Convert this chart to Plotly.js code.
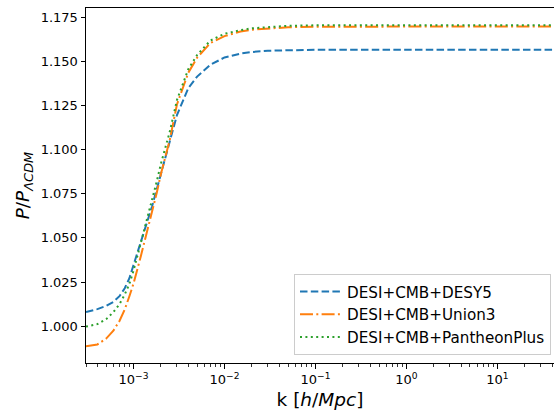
<!DOCTYPE html>
<html>
<head>
<meta charset="utf-8">
<script src="https://cdn.plot.ly/plotly-3.0.1.min.js"></script>
<style>html,body{margin:0;padding:0;background:#fff;}#chart{width:554px;height:414px;}</style>
</head>
<body>
<div id="chart"></div>
<script>
// wavenumber k [h/Mpc]
const k = [3e-4, 4e-4, 5e-4, 6e-4, 7e-4, 8e-4, 9e-4, 1e-3, 1.2e-3, 1.4e-3, 1.6e-3, 1.8e-3, 2e-3, 2.5e-3, 3e-3, 4e-3, 5e-3, 7e-3, 1e-2, 1.5e-2, 2e-2, 3e-2, 5e-2, 0.1, 0.2, 0.5, 1, 2, 5, 10, 20, 50];
// P / P_LCDM
const ratioDESY5 = [1.0080, 1.0097, 1.0115, 1.0138, 1.0170, 1.0215, 1.0272, 1.0350, 1.0478, 1.0585, 1.0679, 1.0773, 1.0863, 1.1042, 1.1195, 1.1348, 1.1413, 1.1480, 1.1521, 1.1543, 1.1552, 1.1559, 1.1563, 1.1565, 1.1565, 1.1565, 1.1565, 1.1565, 1.1565, 1.1565, 1.1565, 1.1565];
const ratioUnion3 = [0.9887, 0.9897, 0.9930, 0.9975, 1.0030, 1.0095, 1.0170, 1.0242, 1.0395, 1.0527, 1.0644, 1.0755, 1.0862, 1.1054, 1.1255, 1.1435, 1.1520, 1.1603, 1.1642, 1.1668, 1.1678, 1.1686, 1.1692, 1.1695, 1.1696, 1.1696, 1.1696, 1.1696, 1.1696, 1.1696, 1.1696, 1.1696];
const ratioPantheon = [0.9998, 1.0012, 1.0040, 1.0080, 1.0125, 1.0180, 1.0240, 1.0315, 1.0470, 1.0600, 1.0710, 1.0820, 1.0920, 1.1100, 1.1280, 1.1455, 1.1535, 1.1617, 1.1655, 1.1676, 1.1686, 1.1694, 1.1700, 1.1703, 1.1704, 1.1704, 1.1704, 1.1704, 1.1704, 1.1704, 1.1704, 1.1704];

const seriesNames = ["DESI+CMB+DESY5", "DESI+CMB+Union3", "DESI+CMB+PantheonPlus"];
const xTickVals = [1e-3, 1e-2, 1e-1, 1, 10];
const xTickText = ["10<sup>\u22123</sup>", "10<sup>\u22122</sup>", "10<sup>\u22121</sup>", "10<sup>0</sup>", "10<sup>1</sup>"];
const yTickVals = [1.000, 1.025, 1.050, 1.075, 1.100, 1.125, 1.150, 1.175];

const minorVals = [];
for (let e = -4; e <= 1; e++) {
  for (let m = 2; m <= 9; m++) minorVals.push(m * Math.pow(10, e));
}

const traces = [
  {x: k, y: ratioDESY5, name: seriesNames[0], mode: "lines",
   line: {color: "#1f77b4", width: 2, dash: "7.5px,3.3px"}},
  {x: k, y: ratioUnion3, name: seriesNames[1], mode: "lines",
   line: {color: "#ff7f0e", width: 2, dash: "13px,3.3px,2px,3.3px"}},
  {x: k, y: ratioPantheon, name: seriesNames[2], mode: "lines",
   line: {color: "#2ca02c", width: 2, dash: "2px,3.4px"}}
];

const layout = {
  width: 554, height: 414,
  margin: {l: 86, r: 0, t: 8, b: 51},
  paper_bgcolor: "#fff", plot_bgcolor: "#fff",
  font: {family: "DejaVu Sans", color: "#000", size: 13},
  showlegend: true,
  legend: {
    x: 0.9936, y: 0.022, xanchor: "right", yanchor: "bottom",
    bgcolor: "rgba(255,255,255,0.8)", bordercolor: "#cccccc", borderwidth: 1,
    font: {family: "DejaVu Sans", size: 15.2, color: "#000"},
    traceorder: "normal", itemwidth: 42
  },
  xaxis: {
    type: "log",
    range: [Math.log10(3.0e-4), 1.623],
    showgrid: false, zeroline: false,
    showline: true, linecolor: "#000", linewidth: 1, mirror: true,
    ticks: "outside", ticklen: 4.5, tickwidth: 1, tickcolor: "#000",
    tickmode: "array", tickvals: xTickVals, ticktext: xTickText,
    tickfont: {family: "DejaVu Sans", size: 13},
    minor: {tickmode: "array", tickvals: minorVals, ticks: "outside", ticklen: 2.5, tickwidth: 0.8, tickcolor: "#000", showgrid: false},
    title: {text: "k [<i>h</i>/<i>Mpc</i>]", font: {family: "DejaVu Sans", size: 18.5}, standoff: 6}
  },
  yaxis: {
    range: [0.9792, 1.1801],
    showgrid: false, zeroline: false,
    showline: true, linecolor: "#000", linewidth: 1, mirror: false,
    ticks: "outside", ticklen: 4.5, tickwidth: 1, tickcolor: "#000",
    tickmode: "array", tickvals: yTickVals, tickformat: ".3f",
    tickfont: {family: "DejaVu Sans", size: 13},
    title: {text: "<i>P</i>/<i>P</i><sub><i>\u039BCDM</i></sub>", font: {family: "DejaVu Sans", size: 18.5}, standoff: 6}
  }
};

Plotly.newPlot("chart", traces, layout, {displayModeBar: false, staticPlot: true});
</script>
</body>
</html>
